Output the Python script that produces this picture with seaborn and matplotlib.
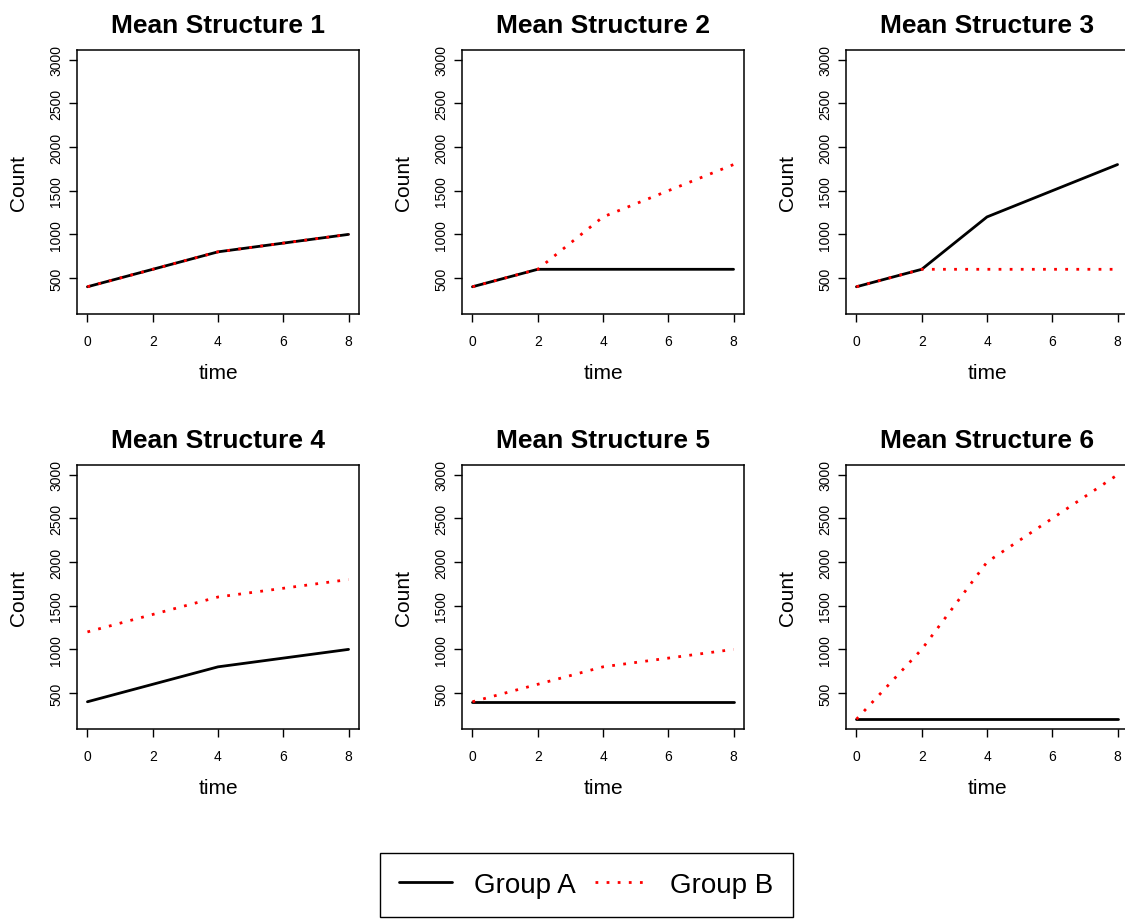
import matplotlib
matplotlib.use("Agg")
import matplotlib.pyplot as plt
from matplotlib.lines import Line2D
import pandas as pd
import seaborn as sns

# Observation times shared by every mean structure
time = [0, 2, 4, 8]

# Mean counts for each structure, group A and group B
structure1_a = [400, 600, 800, 1000]
structure1_b = [400, 600, 800, 1000]
structure2_a = [400, 600, 600, 600]
structure2_b = [400, 600, 1200, 1800]
structure3_a = [400, 600, 1200, 1800]
structure3_b = [400, 600, 600, 600]
structure4_a = [400, 600, 800, 1000]
structure4_b = [1200, 1400, 1600, 1800]
structure5_a = [400, 400, 400, 400]
structure5_b = [400, 600, 800, 1000]
structure6_a = [200, 200, 200, 200]
structure6_b = [200, 1000, 2000, 3000]

titles = [f"Mean Structure {i}" for i in range(1, 7)]
group_labels = ["Group A", "Group B"]
x_ticks = [0, 2, 4, 6, 8]
y_ticks = [500, 1000, 1500, 2000, 2500, 3000]

pairs = [
    (structure1_a, structure1_b),
    (structure2_a, structure2_b),
    (structure3_a, structure3_b),
    (structure4_a, structure4_b),
    (structure5_a, structure5_b),
    (structure6_a, structure6_b),
]

rows = []
for k, (a, b) in enumerate(pairs):
    for t, va, vb in zip(time, a, b):
        rows.append({"panel": k, "group": group_labels[0], "time": t, "count": va})
        rows.append({"panel": k, "group": group_labels[1], "time": t, "count": vb})
df = pd.DataFrame(rows)

sns.set_style("ticks", rc={"axes.edgecolor": "black", "xtick.color": "black",
                           "ytick.color": "black", "axes.linewidth": 1.1,
                           "text.color": "black", "axes.labelcolor": "black"})
plt.rcParams["font.family"] = ["Liberation Sans", "DejaVu Sans"]

W, H = 1125, 920
fig = plt.figure(figsize=(W / 100, H / 100), dpi=100)

lefts = [77, 462, 846]
tops = [51, 466]
aw, ah = 282, 264

dotted = (0, (1, 3.0))
lw = 2.0

y_all = [v for p in pairs for s in p for v in s]
ymin, ymax = min(y_all), max(y_all)
ypad = 0.04 * (ymax - ymin)
xpad = 0.04 * (max(time) - min(time))

for k in range(6):
    r, c = divmod(k, 3)
    left = lefts[c]
    top = tops[r]
    ax = fig.add_axes([left / W, 1 - (top + ah) / H, aw / W, ah / H])
    sub = df[df["panel"] == k]
    sns.lineplot(data=sub[sub["group"] == group_labels[0]], x="time", y="count",
                 ax=ax, color="black", linewidth=lw, errorbar=None, legend=False)
    sns.lineplot(data=sub[sub["group"] == group_labels[1]], x="time", y="count",
                 ax=ax, color="red", linewidth=lw, linestyle=dotted,
                 errorbar=None, legend=False)
    ax.set_xlim(min(time) - xpad, max(time) + xpad)
    ax.set_ylim(ymin - ypad, ymax + ypad)
    ax.set_xticks(x_ticks)
    ax.set_yticks(y_ticks)
    ax.tick_params(axis="both", direction="out", length=5.5, width=1,
                   labelsize=10, colors="black")
    ax.tick_params(axis="x", pad=9)
    ax.tick_params(axis="y", pad=4.5)
    for lab in ax.get_yticklabels():
        lab.set_rotation(90)
        lab.set_va("center")
    for sp in ax.spines.values():
        sp.set_visible(True)
        sp.set_color("black")
        sp.set_linewidth(1.1)
    ax.set_title(titles[k], fontsize=19, fontweight="bold", pad=13)
    ax.set_xlabel("time", fontsize=15)
    ax.set_ylabel("Count", fontsize=15)
    ax.xaxis.set_label_coords(0.5, -0.185)
    ax.yaxis.set_label_coords(-0.175, 0.5)

handles = [
    Line2D([], [], color="black", linewidth=lw),
    Line2D([], [], color="red", linewidth=lw, linestyle=dotted),
]
leg = fig.legend(handles, group_labels, loc="center",
                 bbox_to_anchor=(586.5 / W, 1 - 886 / H), ncol=2, fontsize=20,
                 frameon=True, fancybox=False, edgecolor="black", framealpha=1,
                 handlelength=1.9, handletextpad=0.8, columnspacing=0.7,
                 borderpad=0.7)
leg.get_frame().set_linewidth(1.0)

fig.savefig("out.png", dpi=100)
